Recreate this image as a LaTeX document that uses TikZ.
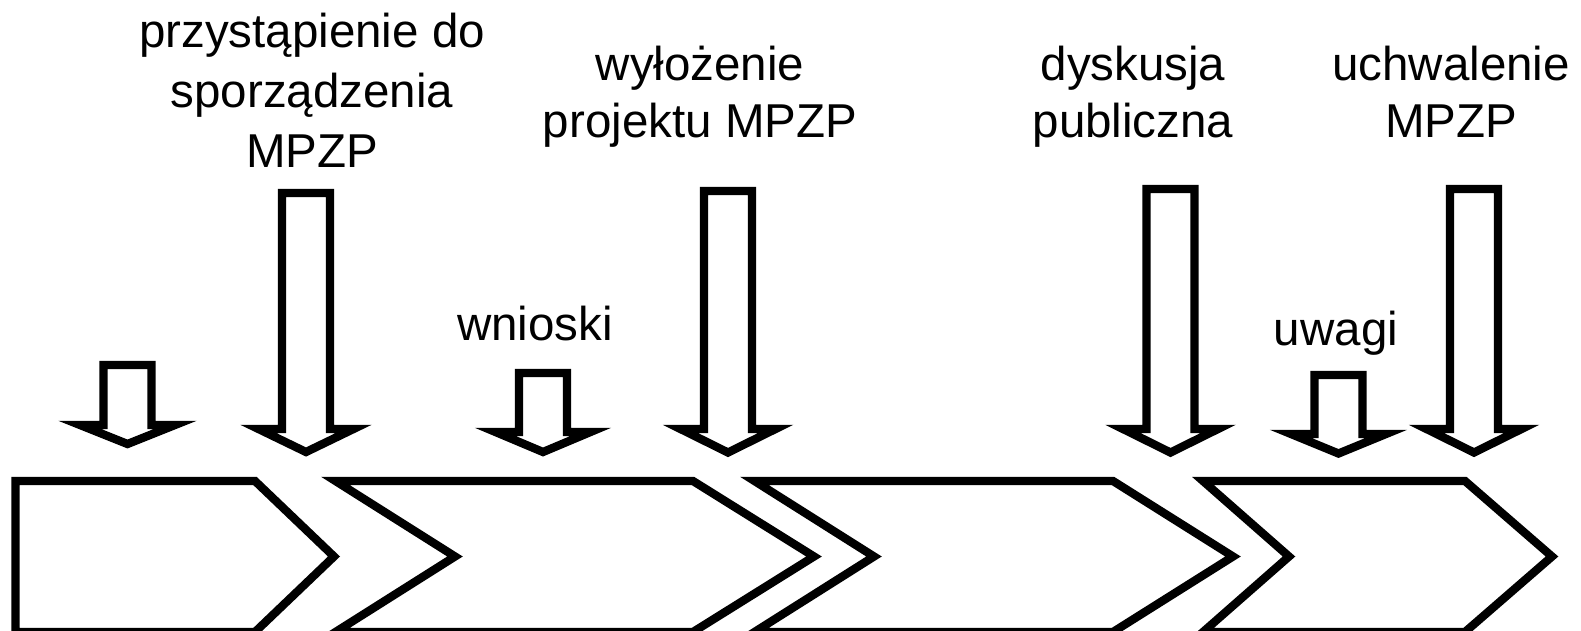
\documentclass[tikz,border=0pt]{standalone}
\usepackage{fontspec}
\setmainfont{Liberation Sans}
\begin{document}
\begin{tikzpicture}[x=1pt,y=-1pt]
\tikzset{
  outl/.style={draw=black, line width=8.3pt, line join=miter, miter limit=12, fill=white},
  lbl/.style={inner sep=0pt, outer sep=0pt, align=center, anchor=north},
  fsA/.style={font=\fontsize{47.5}{60}\selectfont},
  fsB/.style={font=\fontsize{47.5}{57}\selectfont}
}
\useasboundingbox (0,0) rectangle (1581,631);
% process chevrons
\draw[outl] (15.5,481) -- (255,481) -- (334,556.5) -- (255,632) -- (15.5,632) -- cycle;
\draw[outl] (335.5,481) -- (693,481) -- (814,556.5) -- (693,632) -- (335.5,632) -- (455,556.5) -- cycle;
\draw[outl] (754.5,481) -- (1113,481) -- (1233,556.5) -- (1113,632) -- (754.5,632) -- (874,556.5) -- cycle;
\draw[outl] (1203,481) -- (1465,481) -- (1552,556.5) -- (1465,632) -- (1203,632) -- (1289,556.5) -- cycle;
% block arrows
\foreach \cx/\tp/\bs/\tip in {127.5/365/425/444, 306/193/429/452, 543/373/432/452, 728/191/429/452.5, 1170.5/189/429/452.5, 1338.5/375/434/453.5, 1474/189/429/452.5}
  \draw[outl] (\cx-24,\tp) -- (\cx+24,\tp) -- (\cx+24,\bs) -- (\cx+47.5,\bs) -- (\cx,\tip) -- (\cx-47.5,\bs) -- (\cx-24,\bs) -- cycle;
% labels
\node[lbl,fsA] (l1) at (312,13) {przystąpienie do\\sporządzenia\\MPZP};
\node[lbl,fsB] (l2) at (700,46) {wyłożenie\\projektu MPZP};
\node[lbl,fsB] (l3) at (1133,46) {dyskusja\\publiczna};
\node[lbl,fsB] (l4) at (1451,46) {uchwalenie\\MPZP};
\node[lbl,fsA] (l5) at (535,306) {wnioski};
\node[lbl,fsA] (l6) at (1336,311) {uwagi};
\end{tikzpicture}
\end{document}
